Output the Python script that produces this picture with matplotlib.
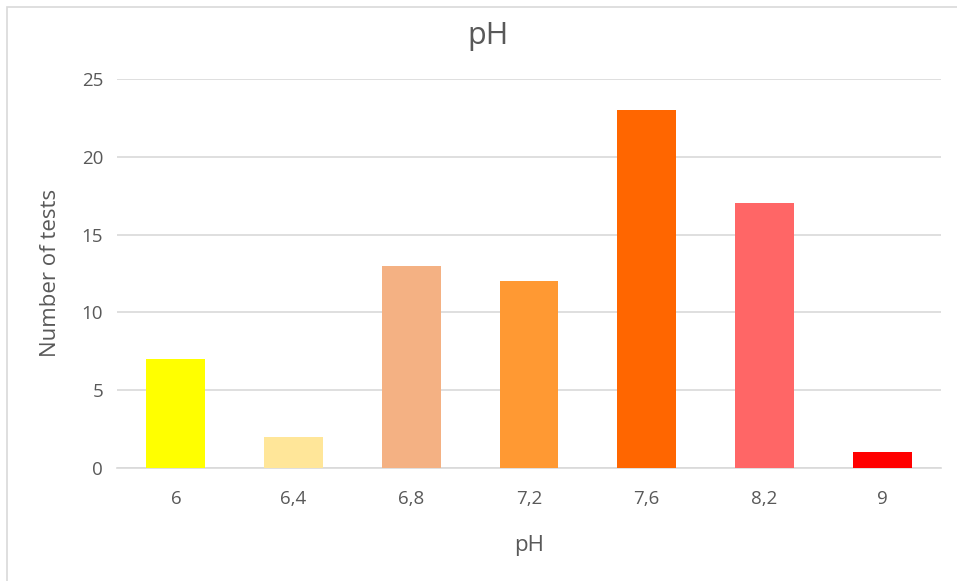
import matplotlib
matplotlib.use("Agg")
import matplotlib.pyplot as plt
from matplotlib.patches import Rectangle

categories = ["6", "6,4", "6,8", "7,2", "7,6", "8,2", "9"]
counts = [7, 2, 13, 12, 23, 17, 1]
colors = ["#FFFF00", "#FFE699", "#F4B183", "#FF9933", "#FF6600", "#FF6666", "#FF0000"]
yticks = [0, 5, 10, 15, 20, 25]

plt.rcParams['font.family'] = ['Open Sans', 'DejaVu Sans']
W, H = 957, 581
fig = plt.figure(figsize=(W/100, H/100), dpi=100)
# faint outer chart border (top/left visible)
fig.patches.append(Rectangle((7/W, -0.1), 1.2, 1 - 7/H + 0.1, transform=fig.transFigure,
                             fill=False, edgecolor="#D9D9D9", linewidth=1.2))

left, right = 117/W, 941/W
bottom, top = 1 - 468/H, 1 - 79/H
ax = fig.add_axes([left, bottom, right - left, top - bottom])
x = range(len(categories))
ax.bar(x, counts, width=0.5, color=colors, zorder=3)
ax.set_xlim(-0.5, len(categories) - 0.5)
ax.set_ylim(0, 25)
ax.set_yticks(yticks)
ax.set_xticks(list(x))
ax.set_xticklabels(categories)
ax.grid(axis='y', color="#D9D9D9", linewidth=1.2, zorder=0)
for s in ["top", "right", "left"]:
    ax.spines[s].set_visible(False)
ax.spines["bottom"].set_color("#D9D9D9")
ax.spines["bottom"].set_linewidth(1.2)
ax.tick_params(axis='both', length=0, colors="#595959", labelsize=13.5)
ax.tick_params(axis='x', pad=16)
ax.tick_params(axis='y', pad=10)
ax.set_xlabel("")
ax.set_ylabel("")
fig.text(529/W, 1 - 546/H, "pH", ha='center', va='center', fontsize=16, color="#595959")
fig.text(51/W, 1 - 273/H, "Number of tests", ha='center', va='center', rotation=90,
         fontsize=16, color="#595959")
fig.text(488/W, 1 - 36/H, "pH", ha='center', va='center', fontsize=22, color="#595959")
fig.savefig("out.png", dpi=100)
